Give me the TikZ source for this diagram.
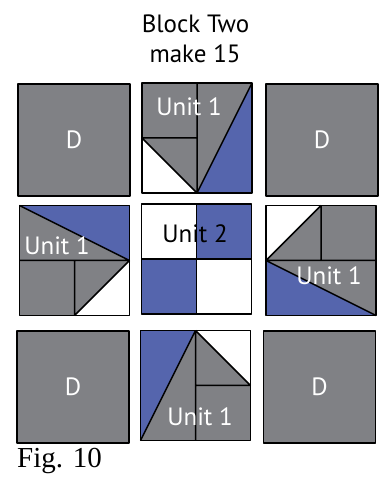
\documentclass[tikz,border=0pt]{standalone}
\usepackage{fontspec}
\setmainfont{Liberation Serif}
\newfontfamily\labfont{PT Sans}
\definecolor{qgray}{RGB}{128,129,133}
\definecolor{qblue}{RGB}{85,101,173}
\begin{document}
\begin{tikzpicture}[x=1pt,y=1pt,
  lnw/.style={line width=1.5pt, line join=round, draw=black},
  lab/.style={font=\labfont\fontsize{25}{30}\selectfont, inner sep=0pt},
  dsq/.style={lnw, fill=qgray, text=white, minimum size=112pt, inner sep=0pt, lab},
  unitone/.pic={
    \fill[qgray] (-1,-1) rectangle (1,1);
    \fill[white] (-1,0) -- (-1,-1) -- (0,-1) -- cycle;
    \fill[qblue] (0,-1) -- (1,1) -- (1,-1) -- cycle;
    \draw[lnw] (0,-1) -- (0,1) (-1,0) -- (0,0) (-1,0) -- (0,-1) (0,-1) -- (1,1);
    \draw[lnw] (-1,-1) rectangle (1,1);
  },
  unittwo/.pic={
    \fill[white] (-1,-1) rectangle (1,1);
    \fill[qblue] (0,0) rectangle (1,1);
    \fill[qblue] (-1,-1) rectangle (0,0);
    \draw[lnw] (0,-1) -- (0,1) (-1,0) -- (1,0);
    \draw[lnw] (-1,-1) rectangle (1,1);
  }
]
\useasboundingbox (0,0) rectangle (385,478);
% header
\node[lab, anchor=base] (h1) at (195.5,445) {Block Two};
\node[lab, anchor=base] (h2) at (195,415) {make 15};
% D squares
\node[dsq] (d1) at (74,338) {D};
\node[dsq] (d2) at (322,338) {D};
\node[dsq] (d3) at (73,91) {D};
\node[dsq] (d4) at (319.5,91) {D};
% units
\pic[scale=55] (ut) at (197,340) {unitone};
\pic[scale=55, rotate=90] (ul) at (74.5,217.5) {unitone};
\pic[scale=55, rotate=-90] (ur) at (321,217.5) {unitone};
\pic[scale=55, rotate=180] (ub) at (195.5,92.5) {unitone};
\pic[scale=55] (uc) at (196.5,219) {unittwo};
% labels
\node[lab, text=white] (lt) at (189,371) {Unit 1};
\node[lab, text=white] (ll) at (57,232) {Unit 1};
\node[lab, text=white] (lr) at (329,202.5) {Unit 1};
\node[lab, text=white] (lb) at (200,61) {Unit 1};
\node[lab, text=black] (lc) at (195,244.7) {Unit 2};
% caption
\node[font=\fontsize{29}{32}\selectfont, anchor=base west, inner sep=0pt] (fig) at (17,10) {Fig. 10};
\end{tikzpicture}
\end{document}
